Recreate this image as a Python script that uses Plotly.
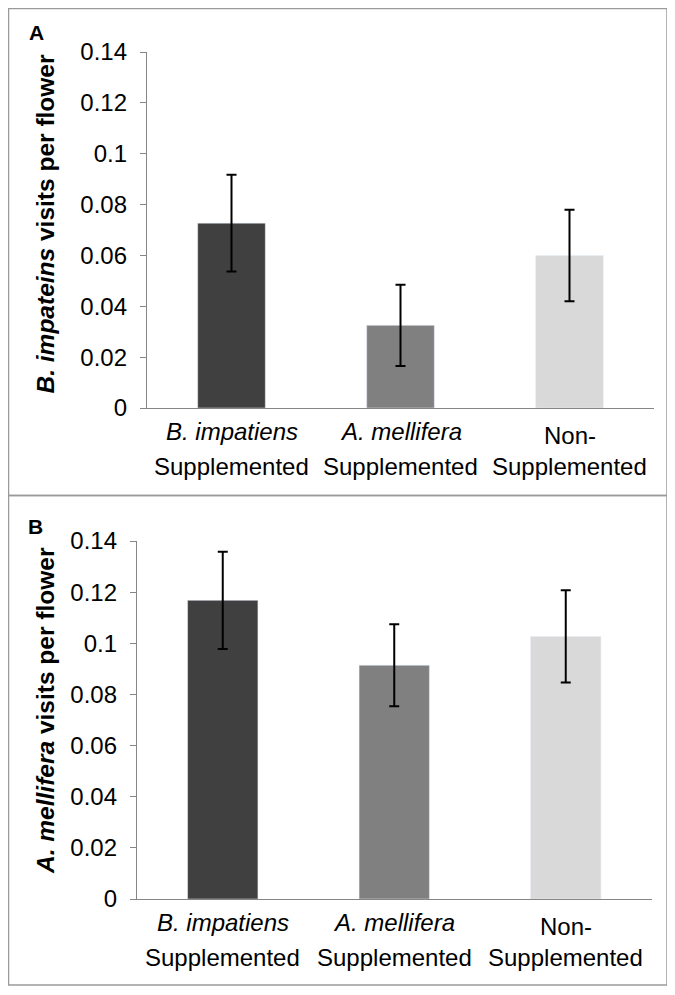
import plotly.graph_objects as go

# categories (two-line x labels)
categories = ['B. impatiens Supplemented', 'A. mellifera Supplemented',
              'Non-Supplemented']
label_top = ['<i>B. impatiens</i>', '<i>A. mellifera</i>', 'Non-']
label_bottom = ['Supplemented', 'Supplemented', 'Supplemented']
bar_colors = ['#404040', '#808080', '#d9d9d9']

# panel A: B. impatiens visits per flower
visits_a = [0.0727, 0.0325, 0.0600]
err_a = [0.019, 0.016, 0.018]

# panel B: A. mellifera visits per flower
visits_b = [0.1168, 0.0914, 0.1027]
err_b = [0.019, 0.016, 0.018]

y_ticks = [0, 0.02, 0.04, 0.06, 0.08, 0.1, 0.12, 0.14]

# the page body adds an 8px margin, so the figure is a bit smaller
OFF = 8
W, H = 675 - OFF, 995 - OFF
FONT = 'Liberation Sans, Arial, sans-serif'
AXIS_GREY = '#868686'


def px(x):
    return (x - OFF) / W


def py(y):
    return 1 - (y - OFF) / H


fig = go.Figure()

fig.add_trace(go.Bar(x=categories, y=visits_a, marker_color=bar_colors,
                     width=0.40, xaxis='x', yaxis='y', showlegend=False,
                     error_y=dict(type='data', array=err_a, color='black',
                                  thickness=2, width=5)))
fig.add_trace(go.Bar(x=categories, y=visits_b, marker_color=bar_colors,
                     width=0.41, xaxis='x2', yaxis='y2', showlegend=False,
                     error_y=dict(type='data', array=err_b, color='black',
                                  thickness=2, width=5)))

xaxis_common = dict(showline=True, linecolor=AXIS_GREY, linewidth=1.3,
                    ticks='', showgrid=False, zeroline=False, automargin=False,
                    range=[-0.5, 2.5], fixedrange=True, showticklabels=False)
yaxis_common = dict(showline=True, linecolor=AXIS_GREY, linewidth=1.3,
                    ticks='outside', ticklen=6, tickcolor=AXIS_GREY,
                    showgrid=False, zeroline=False, automargin=False,
                    range=[0, 0.14], tickvals=y_ticks, ticklabelstandoff=8,
                    tickfont=dict(family=FONT, size=24, color='black'))

fig.update_layout(
    width=W, height=H,
    margin=dict(l=0, r=0, t=0, b=0, autoexpand=False),
    paper_bgcolor='white', plot_bgcolor='white',
    showlegend=False,
    xaxis=dict(domain=[px(147), px(654)], anchor='y', **xaxis_common),
    yaxis=dict(domain=[py(408), py(52)], anchor='x', **yaxis_common),
    xaxis2=dict(domain=[px(137), px(651.5)], anchor='y2', **xaxis_common),
    yaxis2=dict(domain=[py(899), py(541)], anchor='x2', **yaxis_common),
)

# category labels under each axis (Excel-style wider line spacing)
for xr, yr in (('x', 'y'), ('x2', 'y2')):
    for cat, top, bottom in zip(categories, label_top, label_bottom):
        fig.add_annotation(text=top, xref=xr, yref=yr, x=cat, y=0,
                           xanchor='center', yanchor='middle', showarrow=False,
                           yshift=-27 if top == 'Non-' else -23,
                           font=dict(family=FONT, size=24, color='black'))
        fig.add_annotation(text=bottom, xref=xr, yref=yr, x=cat, y=0,
                           xanchor='center', yanchor='middle', showarrow=False,
                           yshift=-58,
                           font=dict(family=FONT, size=24, color='black'))

# y axis titles
fig.add_annotation(text='<b><i>B. impateins</i> visits per flower</b>',
                   xref='paper', yref='paper', x=px(45), y=py(224.5),
                   xanchor='center', yanchor='middle',
                   textangle=-90, showarrow=False,
                   font=dict(family=FONT, size=24.5, color='black'))
fig.add_annotation(text='<b><i>A. mellifera</i> visits per flower</b>',
                   xref='paper', yref='paper', x=px(45), y=py(711),
                   xanchor='center', yanchor='middle',
                   textangle=-90, showarrow=False,
                   font=dict(family=FONT, size=24.5, color='black'))

# panel letters
fig.add_annotation(text='<b>A</b>', xref='paper', yref='paper',
                   x=px(36.5), y=py(32), xanchor='center', yanchor='middle',
                   showarrow=False, font=dict(family=FONT, size=21, color='black'))
fig.add_annotation(text='<b>B</b>', xref='paper', yref='paper',
                   x=px(35.5), y=py(526), xanchor='center', yanchor='middle',
                   showarrow=False, font=dict(family=FONT, size=21, color='black'))

# panel frames
fig.add_shape(type='rect', xref='paper', yref='paper',
              x0=px(8.5), x1=px(667), y0=py(495.5), y1=py(8.5),
              line=dict(color='#9a9a9a', width=1.5))
fig.add_shape(type='rect', xref='paper', yref='paper',
              x0=px(8.5), x1=px(667), y0=py(985), y1=py(495.5),
              line=dict(color='#9a9a9a', width=1.5))

# end tick on the category axes
fig.add_shape(type='line', xref='x', yref='y', x0=2.5, x1=2.5, y0=0, y1=-0.002,
              line=dict(color=AXIS_GREY, width=1.3))
fig.add_shape(type='line', xref='x2', yref='y2', x0=2.5, x1=2.5, y0=0, y1=-0.002,
              line=dict(color=AXIS_GREY, width=1.3))

fig.write_html('out.html')
